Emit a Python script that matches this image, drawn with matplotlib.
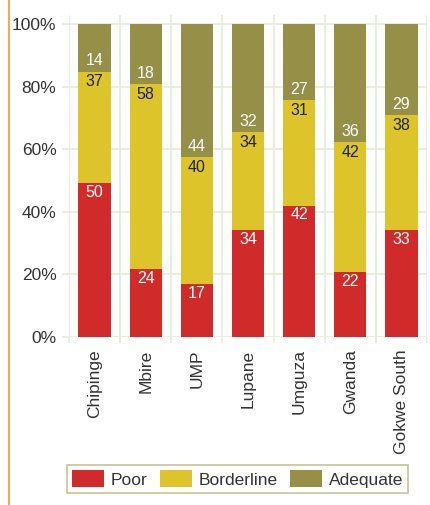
import numpy as np
import matplotlib.pyplot as plt
from matplotlib.lines import Line2D
from matplotlib.ticker import PercentFormatter

plt.rcParams['font.family'] = ['Liberation Sans', 'DejaVu Sans']

districts = ['Chipinge', 'Mbire', 'UMP', 'Lupane', 'Umguza', 'Gwanda', 'Gokwe South']
# printed labels
poor = [50, 24, 17, 34, 42, 22, 33]
borderline = [37, 58, 40, 34, 31, 42, 38]
adequate = [14, 18, 44, 32, 27, 36, 29]
# segment heights as drawn (percent of bar)
poor_h = [49.2, 21.7, 16.9, 34.2, 42.0, 20.8, 34.2]
border_h = [35.6, 59.2, 40.7, 31.3, 33.7, 41.5, 36.7]
adeq_h = [15.2, 19.1, 42.4, 34.5, 24.3, 37.7, 29.1]

c_poor = '#d02a2a'
c_border = '#dcc42a'
c_adeq = '#958f47'
grid_c = '#e2eed6'

p = np.array(poor_h) / 100
b = np.array(border_h) / 100
a = np.array(adeq_h) / 100

fig = plt.figure(figsize=(4.31, 5.05), dpi=100)
ax = fig.add_axes([0.160, 0.3327, 0.8307, 0.6384])

x = np.arange(len(districts))
w = 0.63
ax.bar(x, p, w, color=c_poor, label='Poor', zorder=2)
ax.bar(x, b, w, bottom=p, color=c_border, label='Borderline', zorder=2)
ax.bar(x, a, w, bottom=p + b, color=c_adeq, label='Adequate', zorder=2)

for i in x:
    ax.text(i, p[i] - 0.006, '%d' % poor[i], ha='center', va='top',
            color='white', fontsize=11.5, zorder=3)
    ax.text(i, p[i] + b[i] - 0.009, '%d' % borderline[i], ha='center', va='top',
            color='#222222', fontsize=11.5, zorder=3)
    ax.text(i, p[i] + b[i] + 0.01, '%d' % adequate[i], ha='center', va='bottom',
            color='white', fontsize=11.5, zorder=3)

ax.set_xlim(-0.5, len(districts) - 0.5)
ax.set_ylim(0, 1.03)
ax.set_yticks(np.arange(0, 1.01, 0.2))
ax.yaxis.set_major_formatter(PercentFormatter(1.0, decimals=0))
ax.set_xticks(x)
ax.set_xticklabels(districts, rotation=90)
ax.set_xticks(np.arange(-0.5, len(districts)), minor=True)

for s in ax.spines.values():
    s.set_visible(False)
ax.grid(axis='y', which='major', color=grid_c, lw=1.2, zorder=0)
ax.grid(axis='x', which='minor', color=grid_c, lw=1.2, zorder=0)
ax.tick_params(axis='y', length=5, width=1.2, color=grid_c, pad=4,
               labelsize=12.5, labelcolor='#333333')
ax.tick_params(axis='x', which='major', length=0, pad=9,
               labelsize=12.5, labelcolor='#333333')
ax.tick_params(axis='x', which='minor', length=4.5, width=1.2, color=grid_c)

fig.add_artist(Line2D([0.021, 0.021], [0, 1], color='#f2a65e', lw=1.5))

leg = fig.legend(loc='center', bbox_to_anchor=(0.551, 0.0515), ncol=3,
                 fontsize=12.5, frameon=True, fancybox=False,
                 handlelength=1.85, handleheight=1.1, handletextpad=0.35,
                 columnspacing=0.75, borderpad=0.3)
leg.get_frame().set_edgecolor('#b8b478')
leg.get_frame().set_linewidth(1.2)
for t in leg.get_texts():
    t.set_color('#333333')

plt.savefig('out.png')
